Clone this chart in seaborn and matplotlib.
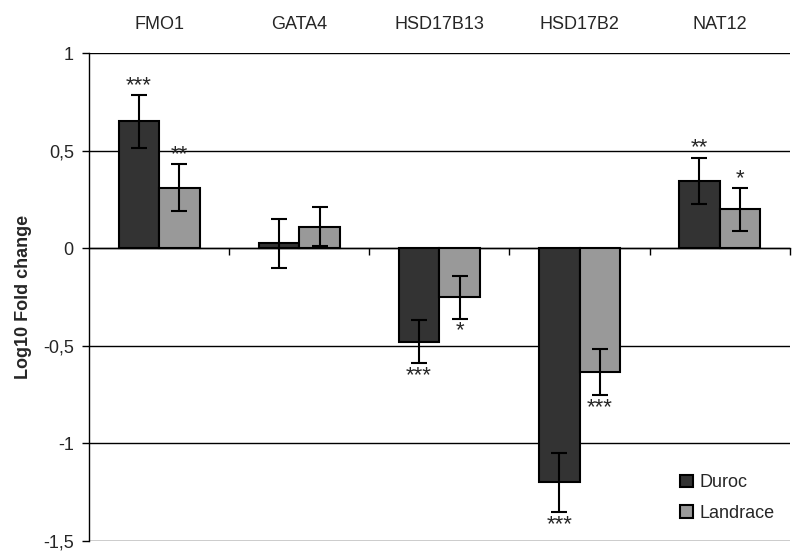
import numpy as np
import pandas as pd
import seaborn as sns
import matplotlib.pyplot as plt
from matplotlib.ticker import FuncFormatter, FixedLocator

genes = ['FMO1', 'GATA4', 'HSD17B13', 'HSD17B2', 'NAT12']
breeds = ['Duroc', 'Landrace']
duroc = [0.65, 0.025, -0.48, -1.20, 0.345]
landrace = [0.31, 0.11, -0.25, -0.635, 0.20]
duroc_err = [0.135, 0.125, 0.11, 0.152, 0.12]
landrace_err = [0.12, 0.10, 0.11, 0.117, 0.11]
duroc_sig = ['***', '', '***', '***', '**']
landrace_sig = ['**', '', '*', '***', '*']
colors = ['#333333', '#999999']

data = pd.DataFrame({
    'gene': genes * 2,
    'breed': [breeds[0]] * 5 + [breeds[1]] * 5,
    'value': duroc + landrace,
})
vals = [duroc, landrace]
errs = [duroc_err, landrace_err]
sigs = [duroc_sig, landrace_sig]

sns.set_style('white')
plt.rcParams['font.family'] = ['Liberation Sans', 'DejaVu Sans']

fig = plt.figure(figsize=(8.1, 5.6), dpi=100)
ax = fig.add_axes([0.110, 0.034, 0.865, 0.871])

sns.barplot(data=data, x='gene', y='value', hue='breed', order=genes,
            hue_order=breeds, palette=colors, width=0.58, errorbar=None,
            edgecolor='black', linewidth=1.5, saturation=1, ax=ax, zorder=3)

bar_groups = list(ax.containers)
for k, cont in enumerate(bar_groups):
    for i, bar in enumerate(cont.patches):
        xc = bar.get_x() + bar.get_width() / 2
        v = vals[k][i]
        e = errs[k][i]
        ax.errorbar(xc, v, yerr=e, color='black', elinewidth=1.5,
                    capsize=6, capthick=1.5, zorder=4)
        s = sigs[k][i]
        if s:
            if v >= 0:
                ax.text(xc, v + e - 0.005, s, ha='center', va='bottom', fontsize=16)
            else:
                ax.text(xc, v - e - 0.01, s, ha='center', va='top', fontsize=16)

ax.set_ylim(-1.5, 1.0)
ax.set_xlim(-0.5, 4.5)
ax.set_yticks([-1.5, -1, -0.5, 0, 0.5, 1])
ax.yaxis.set_major_formatter(FuncFormatter(lambda y, p: ('%g' % y).replace('.', ',')))
ax.yaxis.grid(True, color='black', linewidth=1)
ax.set_axisbelow(True)
ax.tick_params(axis='y', length=5, width=1, color='black', labelsize=13, left=True, pad=6)

ax.spines['bottom'].set_position(('data', 0))
ax.spines['top'].set_visible(False)
ax.spines['right'].set_visible(False)
for sp in ['left', 'bottom']:
    ax.spines[sp].set_color('black')
    ax.spines[sp].set_linewidth(1)

ax.xaxis.set_minor_locator(FixedLocator([0.5, 1.5, 2.5, 3.5, 4.5]))
ax.tick_params(axis='x', which='major', bottom=False, top=False,
               labelbottom=False, labeltop=True, labelsize=13, pad=11)
ax.tick_params(axis='x', which='minor', bottom=True, top=False, length=5,
               width=1, color='black', direction='out')
ax.set_xlabel('')
ax.set_ylabel('Log10 Fold change', fontsize=13, fontweight='bold', labelpad=8)

ax.legend(loc='upper left', bbox_to_anchor=(0.82, 0.17), frameon=False,
          fontsize=13, handlelength=0.7, handleheight=0.7, handletextpad=0.4,
          labelspacing=0.75)
for h in ax.get_legend().legend_handles:
    h.set_edgecolor('black')
    h.set_linewidth(1.5)

fig.savefig('out.png', dpi=100)
